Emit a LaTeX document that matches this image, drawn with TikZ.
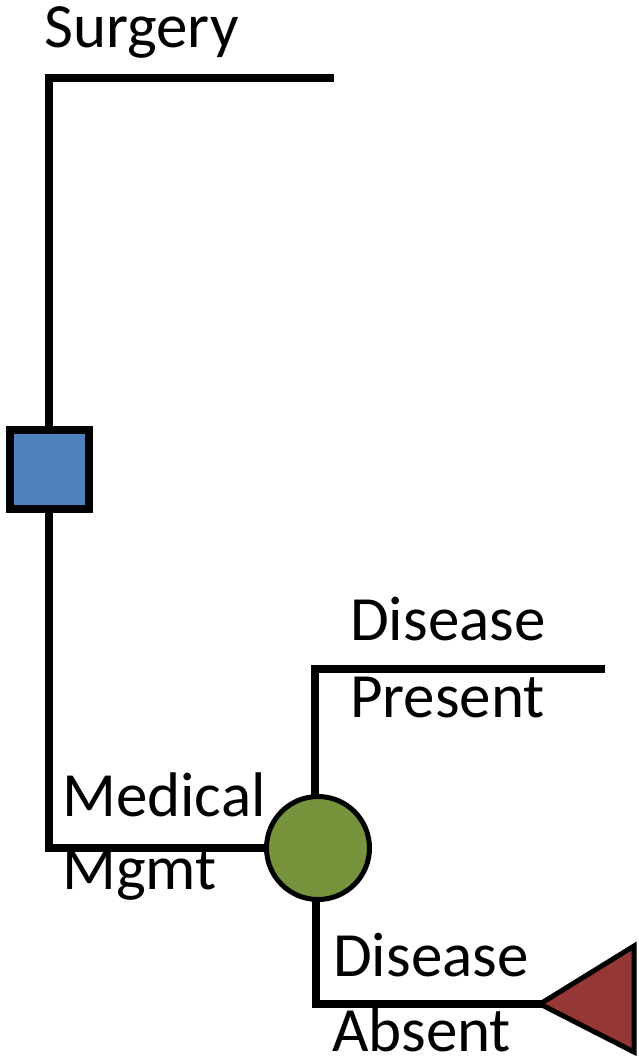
\documentclass[tikz,border=0pt]{standalone}
\usepackage{fontspec}
\setmainfont{Carlito}
\definecolor{decblue}{HTML}{4F81BD}
\definecolor{chgreen}{HTML}{77933C}
\definecolor{termred}{HTML}{953735}
\begin{document}
\begin{tikzpicture}[x=1pt,y=-1pt,
  branch/.style={line width=7.5pt, line join=miter, line cap=rect},
  lbl/.style={anchor=base west, inner sep=0pt, font=\fontsize{63}{75}\selectfont},
  decnode/.style={draw, line width=8pt, fill=decblue, minimum size=79pt, inner sep=0pt},
  chnode/.style={draw, circle, line width=5pt, fill=chgreen, minimum size=103pt, inner sep=0pt},
  termstyle/.style={draw, line width=5pt, fill=termred, line join=miter}]
\useasboundingbox (0,0) rectangle (638,1060);
% nodes
\node[decnode] (dec) at (49,469.5) {};
\node[chnode] (chance) at (318,848) {};
\coordinate (surgEnd) at (330,78);
\coordinate (presEnd) at (601,669);
\coordinate (termApex) at (540,1004);
\coordinate (termTop) at (634,946);
\coordinate (termBot) at (634,1052);
% connectors
\draw[branch] (dec.north) |- (surgEnd);
\draw[branch] (dec.south) |- (chance.west);
\draw[branch] (chance.north -| 315,0) |- (presEnd);
\draw[branch] (chance.south -| 316,0) |- (termApex);
% terminal triangle
\draw[termstyle] (termApex) -- (termTop) -- (termBot) -- cycle;
% labels
\node[lbl] (surg) at (44,47) {Surgery};
\node[lbl] (dis1) at (350,640) {Disease};
\node[lbl] (pres) at (350,717) {Present};
\node[lbl] (med) at (62,816) {Medical};
\node[lbl] (mgmt) at (62,889) {Mgmt};
\node[lbl] (dis2) at (333,976) {Disease};
\node[lbl] (abs) at (332,1051) {Absent};
\end{tikzpicture}
\end{document}
